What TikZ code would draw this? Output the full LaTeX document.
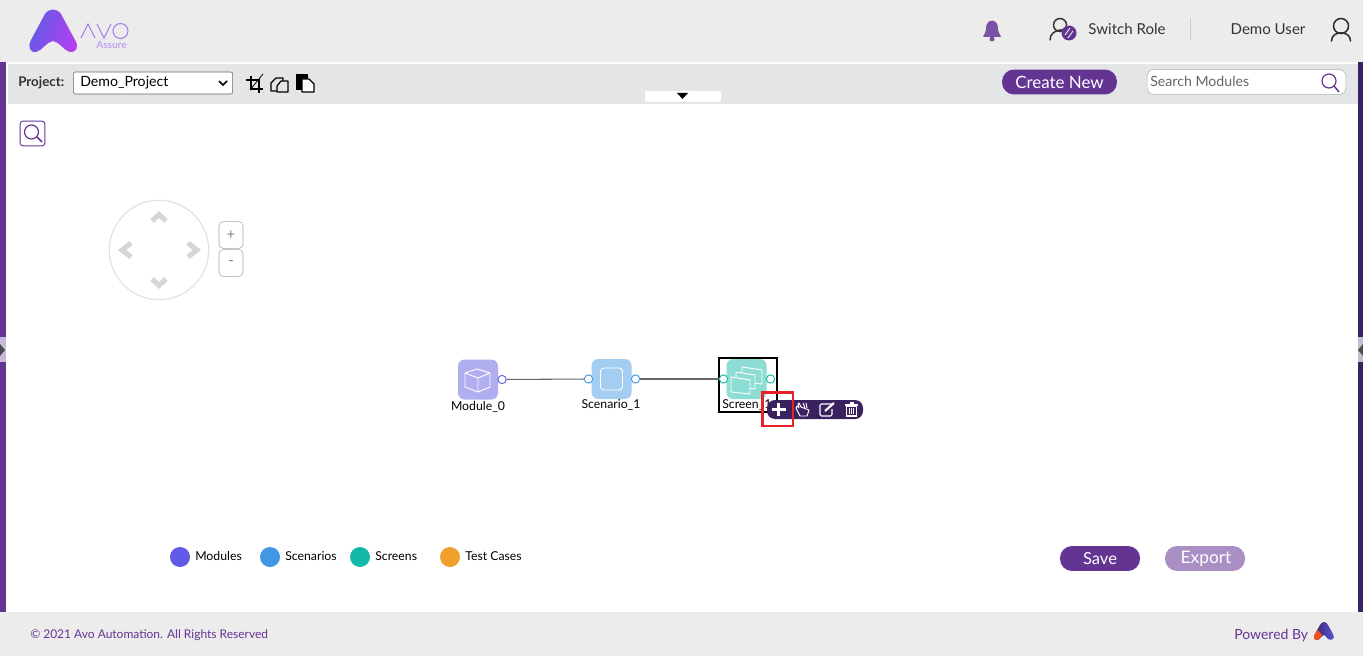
\documentclass[tikz,border=0pt]{standalone}
\usepackage{fontspec}
\setmainfont{Lato}
\usetikzlibrary{calc}
\definecolor{hdr}{HTML}{ECECEC}
\definecolor{bar}{HTML}{E4E5E7}
\definecolor{pur}{HTML}{643493}
\definecolor{dpur}{HTML}{3A2160}
\definecolor{txt}{HTML}{333333}
\definecolor{nav}{HTML}{D6D6D6}
\definecolor{navl}{HTML}{E0E0E0}
\definecolor{modc}{HTML}{B1AEF0}
\definecolor{scnc}{HTML}{A3CDF1}
\definecolor{scrc}{HTML}{8DDDD4}
\definecolor{modd}{HTML}{5F5BE6}
\definecolor{scnd}{HTML}{4196E5}
\definecolor{scrd}{HTML}{14B8A8}
\definecolor{tcd}{HTML}{F0A02C}
\definecolor{logol}{HTML}{A77BF0}
\definecolor{logom}{HTML}{B53FF2}
\definecolor{redbox}{HTML}{E8202A}
\tikzset{
  lab/.style={inner sep=0pt,font=\fontsize{9.2}{10}\selectfont,text=black},
  ttl/.style={inner sep=0pt,text=txt,font=\fontsize{11.3}{12}\selectfont},
  legendtxt/.style={inner sep=0pt,anchor=west,text=black,font=\fontsize{9.2}{10}\selectfont},
  tile/.style={minimum size=30pt,inner sep=0pt,rounded corners=5pt},
  port/.style={circle,draw,fill=white,line width=.7pt,minimum size=6.2pt,inner sep=0pt},
  link/.style={draw=black!60,line width=.8pt},
  dot/.style={circle,minimum size=15pt,inner sep=0pt},
  pill/.style={rounded corners=9pt,inner sep=0pt,text=white},
  glyph/.style={draw=white,line width=.7pt,line join=round},
  tool/.style={draw=black,line width=.9pt,line join=round},
  chev/.style={draw=nav,line width=3.8pt,line join=miter},
  zoombtn/.style={draw=gray!70,rounded corners=3pt,minimum width=18pt,minimum height=20pt,inner sep=0pt,fill=white,text=gray,font=\fontsize{11}{12}\selectfont}
}
\begin{document}
\begin{tikzpicture}[x=.75pt,y=-.75pt]
\useasboundingbox (0,0) rectangle (1363,656);
\fill[white] (0,0) rectangle (1363,656);
\fill[hdr] (0,0) rectangle (1363,62);
\fill[hdr] (0,612) rectangle (1363,656);
\fill[bar] (8,64) rectangle (1358,104);
\fill[pur] (0,62) rectangle (6,612);
\fill[dpur] (1358,62) rectangle (1363,612);
% side grips
\fill[pur!35] (0,337) rectangle (6,362);
\fill[dpur!30] (1358,337) rectangle (1363,362);
\fill[black!70] (0,344) -- (5,350) -- (0,356) -- cycle;
\fill[black!70] (1363,344) -- (1358,350) -- (1363,356) -- cycle;
% logo
\shade[left color=modd,right color=logom,shading angle=70]
  (45,14) .. controls (49,8) and (57,8) .. (61,14) -- (75,40) .. controls (80,48) and (75,53) .. (70,52) .. controls (64,51) and (60,42) .. (53,41) .. controls (46,42) and (42,51) .. (36,52) .. controls (31,53) and (27,48) .. (31,40) -- cycle;
\draw[logol,line width=.8pt] (81,38) -- (88,24) -- (95,38);
\draw[logol,line width=.8pt] (97,24) -- (104,38) -- (111,24);
\draw[logol,line width=.8pt] (120.5,31) circle (7.5);
\node[inner sep=0pt,text=logol!70,font=\fontsize{7.5}{8}\selectfont\bfseries] (assure) at (111.5,45) {Assure};
% header right
\fill[pur!85] (992,20.5) .. controls (986,21) and (986,27) .. (986,30) .. controls (986,33) and (983,35) .. (983,37) -- (1001,37) .. controls (1001,35) and (998,33) .. (998,30) .. controls (998,27) and (998,21) .. (992,20.5) -- cycle;
\fill[pur!85] (992,39) circle (2.5);
\draw[txt,line width=1.1pt] (1060,25) circle (6.5);
\draw[txt,line width=1.1pt,line cap=round] (1050,40) .. controls (1050,28) and (1068,28) .. (1071,33);
\fill[pur] (1069,33) circle (7.5);
\draw[white!85!pur,line width=.7pt] (1065,35) -- (1070,28) (1068,38) -- (1073,31);
\node[ttl] (switch) at (1127,29) {Switch Role};
\draw[black!20,line width=.7pt] (1190.5,18) -- (1190.5,41);
\node[ttl] (demo) at (1268,29) {Demo User};
\draw[txt,line width=1.2pt] (1341,26) circle (7.5);
\draw[txt,line width=1.2pt,line cap=round] (1331.5,41) .. controls (1331.5,30) and (1350.5,30) .. (1350.5,41);
% toolbar
\node[inner sep=0pt,anchor=west,text=txt,font=\fontsize{10}{11}\selectfont\bfseries] (proj) at (18,82.5) {Project:};
\node[draw=black!60,fill=white,rounded corners=1.5pt,minimum width=119.5pt,minimum height=16.5pt,inner sep=0pt] (sel) at (153,83) {};
\node[inner sep=0pt,anchor=west,text=black,font=\fontsize{10.6}{12}\selectfont] (seltxt) at (80,82.5) {Demo\_Project};
\draw[black,line width=1.1pt] (219,81) -- (223,85) -- (227,81);
% crop icon
\draw[black,line width=2.1pt] (251,76) -- (251,89) -- (263,89) (246,80) -- (259,80) -- (259,93);
\draw[black,line width=.6pt] (250,90) -- (263,74);
% copy
\draw[tool] (271,83) -- (271,91) -- (277,91) (271,83) -- (276,78) -- (283,78) -- (283,81);
\draw[tool,fill=bar] (277,86) -- (281,81) -- (288,81) -- (288,92) -- (277,92) -- cycle;
% paste
\fill[black] (296,74) rectangle (308,90);
\fill[white] (302,79) -- (309,79) -- (314,84) -- (314,92) -- (302,92) -- cycle;
\draw[black,line width=.9pt,line join=round] (302,79) -- (309,79) -- (314,84) -- (314,92) -- (302,92) -- cycle;
\fill[white,rounded corners=1pt] (645,91) rectangle (721,102);
\fill[black] (677,93) -- (688,93) -- (682.5,99) -- cycle;
\node[pill,fill=pur,minimum width=86.2pt,minimum height=18.7pt,font=\fontsize{12.7}{14}\selectfont] (create) at (1059.5,82) {Create New};
\node[draw=black!30,fill=white,rounded corners=5pt,minimum width=149pt,minimum height=18.7pt,inner sep=0pt] (search) at (1246.5,82) {};
\node[inner sep=0pt,anchor=west,text=black!60,font=\fontsize{10.6}{12}\selectfont] (searchtxt) at (1150,81.5) {Search Modules};
\draw[pur,line width=.9pt] (1329,81) circle (7);
\draw[pur,line width=1.1pt] (1334,86) -- (1339,92);
% search button
\node[draw=pur,rounded corners=2pt,minimum width=18.5pt,minimum height=18.5pt,inner sep=0pt,line width=.7pt] (find) at (32.5,133.5) {};
\draw[pur,line width=.9pt] (31.5,132) circle (7);
\draw[pur,line width=1.1pt] (37,137) -- (42,142);
% nav
\node[circle,draw=navl,line width=.8pt,minimum size=74.5pt,inner sep=0pt] (navc) at (159,250) {};
\draw[chev] (152,221) -- (159,214.5) -- (166,221);
\draw[chev] (152,279) -- (159,285.5) -- (166,279);
\draw[chev] (131,243) -- (122,250) -- (131,257);
\draw[chev] (188,243) -- (197,250) -- (188,257);
\node[zoombtn] (zin) at (231,235) {+};
\node[zoombtn] (zout) at (231,263) {-};
% graph
\node[tile,fill=modc] (m) at (478,379.5) {};
\node[tile,fill=scnc] (s) at (611.5,379) {};
\node[tile,fill=scrc] (c) at (746.5,379) {};
\draw[black,line width=1.5pt] (718.5,358) rectangle (777,412);
\node[port,draw=modd] (mr) at (502,379.5) {};
\node[port,draw=scnd] (sl) at (588.5,379) {};
\node[port,draw=scnd] (sr) at (635.5,379) {};
\node[port,draw=scrd] (cl) at (723.5,379) {};
\node[port,draw=scrd] (cr) at (770.5,379) {};
\draw[link] (mr) -- (sl);
\draw[link] (sr) -- (cl);
% module glyph
\draw[glyph] (465,373) -- (477,369) -- (490,373) -- (490,387) -- (478,392) -- (465,387) -- cycle;
\draw[glyph] (465,373) -- (478,378) -- (490,373) (478,378) -- (478,392);
% scenario glyph
\draw[glyph,rounded corners=2.5pt] (600.5,368) rectangle (622.5,390);
% screen glyph
\draw[glyph,fill=scrc] (742,367) -- (762,370) -- (762,384) -- (742,382) -- cycle;
\draw[glyph,fill=scrc] (736,372) -- (755,375) -- (755,389) -- (736,387) -- cycle;
\draw[glyph,fill=scrc] (731,377) -- (750,380) -- (750,394) -- (731,392) -- cycle;
\node[lab] (ml) at (478,406.5) {Module\_0};
\node[lab] (sn) at (611,405) {Scenario\_1};
\node[lab,anchor=west] (cn) at (722,405) {Screen\_1};
% action bar
\fill[dpur,rounded corners=6pt] (767,400) rectangle (863,419);
\draw[white,line width=2.2pt] (771.5,409.5) -- (785.5,409.5) (778.5,403) -- (778.5,416);
\draw[redbox,line width=2.1pt] (762.5,392.5) rectangle (793,426);
\draw[white,line width=.7pt,line join=round,fill=dpur] (799,408) -- (797,406) -- (796,408) -- (800,416) -- (807,416) -- (809,410) -- (801,407) -- (799,403) -- (798,404) -- cycle;
\draw[white,line width=.7pt] (803,403) -- (805,408) (806,403) -- (807,408);
\draw[white,line width=.8pt,rounded corners=1pt] (832,404) -- (820,404) -- (820,416) -- (832,416) -- (832,409);
\draw[white,line width=1.6pt] (825,411) -- (834,403);
\draw[white,line width=.8pt] (846.5,406) rectangle (856.5,416);
\draw[white,line width=.9pt] (845,405) -- (858,405) (849.5,403) -- (853.5,403);
\draw[white,line width=.6pt] (849.5,408) -- (849.5,414) (851.5,408) -- (851.5,414) (853.5,408) -- (853.5,414);
% legend
\node[dot,fill=modd] (d1) at (180,557) {};
\node[legendtxt] (l1) at (195,556) {Modules};
\node[dot,fill=scnd] (d2) at (270,557) {};
\node[legendtxt] (l2) at (285,556) {Scenarios};
\node[dot,fill=scrd] (d3) at (360,557) {};
\node[legendtxt] (l3) at (375,556) {Screens};
\node[dot,fill=tcd] (d4) at (450,557) {};
\node[legendtxt] (l4) at (465,556) {Test Cases};
\node[pill,fill=pur,minimum width=60pt,minimum height=18.7pt,font=\fontsize{12.4}{14}\selectfont] (save) at (1100,558.5) {Save};
\node[pill,fill=pur!55,minimum width=60pt,minimum height=18.7pt,font=\fontsize{13}{14}\selectfont] (export) at (1205,558.5) {};
\node[inner sep=0pt,text=white,font=\fontsize{13}{14}\selectfont] (exptxt) at (1206,559) {Export};
% footer
\node[inner sep=0pt,anchor=west,text=pur,font=\fontsize{9}{10}\selectfont] (copy) at (30,635) {© 2021 Avo Automation. All Rights Reserved};
\node[inner sep=0pt,anchor=west,text=pur,font=\fontsize{10.5}{12}\selectfont] (powered) at (1234,635.5) {Powered By};
\shade[left color=dpur,right color=modd] (1320,625) .. controls (1322,621) and (1326,621) .. (1328,625) -- (1333,634) .. controls (1336,639) and (1331,641) .. (1328,639) .. controls (1326,637) and (1325,635) .. (1324,635) .. controls (1322,635) and (1320,640) .. (1317,640) .. controls (1314,640) and (1313,637) .. (1315,634) -- cycle;
\fill[tcd!50!red] (1315,634) -- (1318,630) -- (1322,635) .. controls (1320,638) and (1319,640) .. (1317,640) .. controls (1314,640) and (1313,637) .. (1315,634) -- cycle;
\end{tikzpicture}
\end{document}
